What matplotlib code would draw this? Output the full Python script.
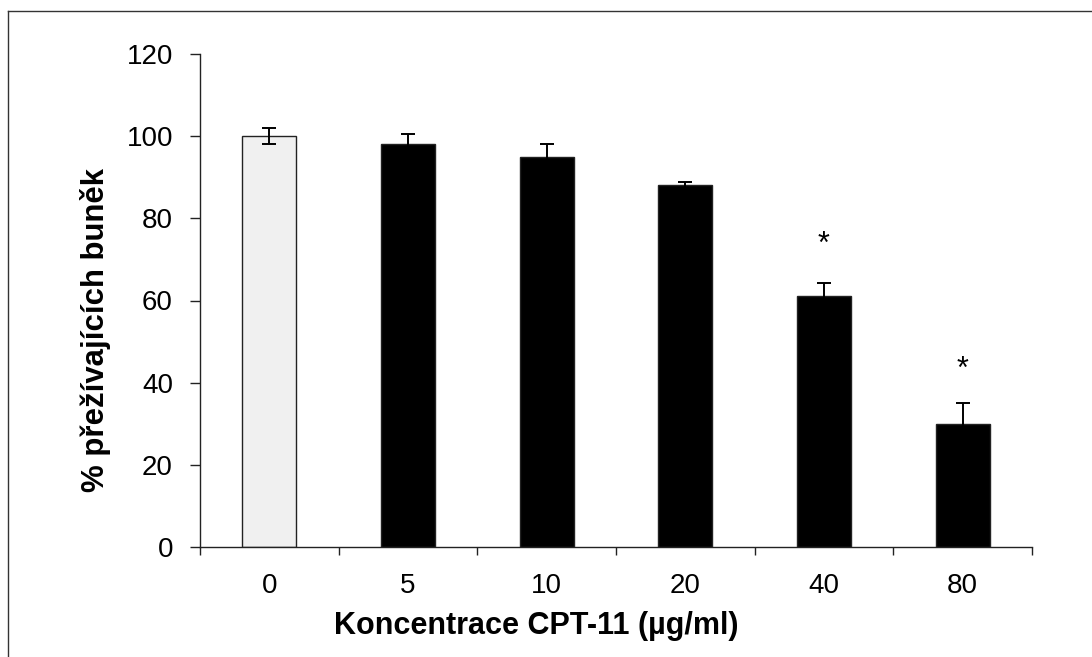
import matplotlib
matplotlib.use("Agg")
import matplotlib.pyplot as plt
from matplotlib.lines import Line2D
import numpy as np

categories = ["0", "5", "10", "20", "40", "80"]
values = [100, 98, 95, 88, 61, 30]
errors = [2, 2.5, 3, 0.8, 3.2, 5]
star_labels = ["", "", "", "", "*", "*"]
star_heights = [None, None, None, None, 73.6, 43.1]
bar_colors = ["#f0f0f0", "black", "black", "black", "black", "black"]

plt.rcParams['font.family'] = ['Liberation Sans', 'DejaVu Sans']

W, H = 1092, 657
fig = plt.figure(figsize=(W / 100, H / 100), dpi=100)
ax = fig.add_axes([200 / W, 1 - 547 / H, 832 / W, 493 / H])

x = np.arange(len(categories))
ax.bar(x, values, width=0.39, color=bar_colors, edgecolor="#222222",
       linewidth=1.0, zorder=2)
ax.errorbar(x, values, yerr=errors, fmt="none", ecolor="black",
            elinewidth=1.4, capsize=5, capthick=1.4, zorder=3)
for xi, lab, h in zip(x, star_labels, star_heights):
    if lab:
        ax.text(xi, h, lab, ha="center", va="center", fontsize=22)

ax.set_xlim(-0.5, len(categories) - 0.5)
ax.set_ylim(0, 120)
ax.set_yticks(np.arange(0, 121, 20))

# boundary ticks (major, unlabeled) and centred labels (minor)
ax.set_xticks(np.arange(-0.5, len(categories), 1.0))
ax.set_xticklabels([])
ax.set_xticks(x, minor=True)
ax.set_xticklabels(categories, minor=True)
ax.tick_params(axis="x", which="major", direction="out", length=6,
               width=1.0, color="#222222")
ax.tick_params(axis="x", which="minor", length=0, labelsize=20, pad=18.7)
ax.tick_params(axis="y", direction="out", length=7.5, width=1.0,
               color="#222222", labelsize=20, pad=12)

for s in ["top", "right"]:
    ax.spines[s].set_visible(False)
for s in ["left", "bottom"]:
    ax.spines[s].set_color("#222222")
    ax.spines[s].set_linewidth(1.0)

ax.set_ylabel("% přežívajících buněk", fontsize=22.4, fontweight="bold")
ax.yaxis.set_label_coords((111 - 200) / 832, (547 - 330) / 493)
ax.set_xlabel("Koncentrace CPT-11 (µg/ml)", fontsize=22, fontweight="bold")
ax.xaxis.set_label_coords((536 - 200) / 832, (547 - 611) / 493)

# outer frame (left and top edges visible)
fig.add_artist(Line2D([8 / W, 8 / W], [0, 1 - 11 / H], transform=fig.transFigure,
                      color="#333333", linewidth=1.0))
fig.add_artist(Line2D([8 / W, 1], [1 - 11 / H, 1 - 11 / H], transform=fig.transFigure,
                      color="#333333", linewidth=1.0))

fig.savefig("out.png", dpi=100)
